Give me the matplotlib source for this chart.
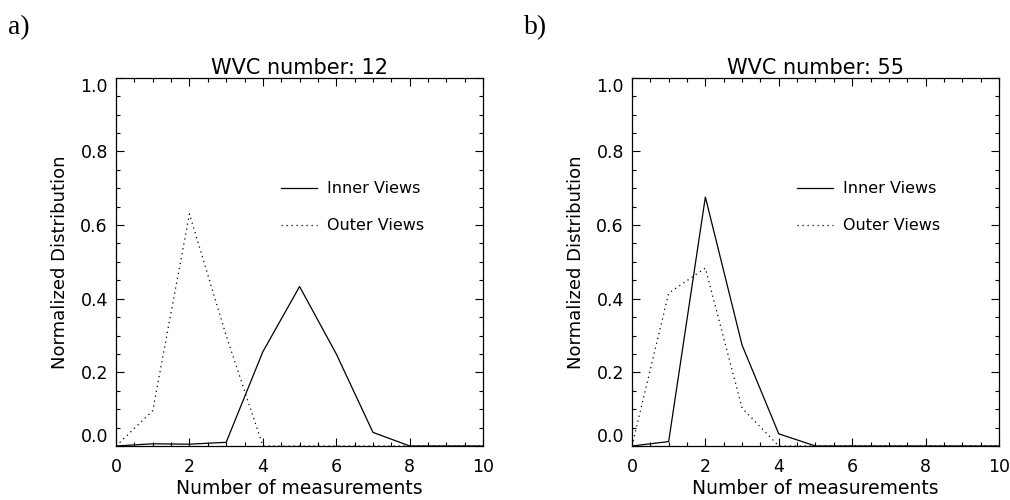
import matplotlib.pyplot as plt
from matplotlib.ticker import MultipleLocator

# number of measurements per WVC
n_meas = [0, 1, 2, 3, 4, 5, 6, 7, 8, 9, 10]

# panel a) WVC 12
inner_12 = [0.0, 0.006, 0.005, 0.01, 0.256, 0.433, 0.25, 0.037, 0.0, 0.0, 0.0]
outer_12 = [0.0, 0.096, 0.63, 0.30, 0.0, 0.0, 0.0, 0.0, 0.0, 0.0, 0.0]

# panel b) WVC 55
inner_55 = [0.0, 0.012, 0.676, 0.274, 0.033, 0.0, 0.0, 0.0, 0.0, 0.0, 0.0]
outer_55 = [0.0, 0.415, 0.483, 0.103, 0.0, 0.0, 0.0, 0.0, 0.0, 0.0, 0.0]

panels = [('a)', 'WVC number: 12', inner_12, outer_12),
          ('b)', 'WVC number: 55', inner_55, outer_55)]

plt.rcParams['font.family'] = 'DejaVu Sans'
fig = plt.figure(figsize=(10.1, 5.0), dpi=100)

lefts = [0.1149, 0.6257]
axes = []
for left, (tag, title, inner, outer) in zip(lefts, panels):
    ax = fig.add_axes([left, 0.108, 0.3634, 0.7366])
    axes.append(ax)

    ax.plot(n_meas, inner, color='black', linewidth=0.9)
    ax.plot(n_meas, outer, color='black', linewidth=0.9, linestyle=(0, (1, 3)))

    ax.set_xlim(0, 10)
    ax.set_ylim(0, 1.0)
    ax.xaxis.set_major_locator(MultipleLocator(2))
    ax.xaxis.set_minor_locator(MultipleLocator(0.5))
    ax.yaxis.set_major_locator(MultipleLocator(0.2))
    ax.yaxis.set_minor_locator(MultipleLocator(0.05))
    ax.yaxis.set_major_formatter(lambda v, pos: f'{v:.1f}')
    ax.tick_params(which='both', direction='in', top=True, right=True,
                   width=0.8, labelsize=12.5)
    ax.tick_params(axis='x', pad=8.5)
    ax.tick_params(axis='y', pad=5.8)
    ax.tick_params(which='major', length=6)
    ax.tick_params(which='minor', length=3)
    for s in ax.spines.values():
        s.set_linewidth(0.9)

    ax.set_title(title, fontsize=15, pad=3)
    ax.set_xlabel('Number of measurements', fontsize=13.5, labelpad=2)
    ax.set_ylabel('Normalized Distribution', fontsize=13, labelpad=8)

    # hand-drawn legend, as in the IDL plot
    ax.plot([4.5, 5.47], [0.70, 0.70], color='black', linewidth=0.9)
    ax.plot([4.5, 5.47], [0.60, 0.60], color='black', linewidth=0.9,
            linestyle=(0, (1, 3)))
    ax.text(5.75, 0.70, 'Inner Views', fontsize=11.5, va='center')
    ax.text(5.75, 0.60, 'Outer Views', fontsize=11.5, va='center')

    fig.text(left - 0.107, 0.97, tag, fontsize=20, family='Liberation Serif',
             va='top')

# IDL keeps the end labels inside the axis range
fig.canvas.draw()
for ax in axes:
    for tick in ax.yaxis.get_major_ticks():
        if abs(tick.get_loc()) < 1e-6:
            tick.label1.set_va('bottom')
        elif abs(tick.get_loc() - 1.0) < 1e-6:
            tick.label1.set_va('top')

fig.savefig('out.png', dpi=100)
